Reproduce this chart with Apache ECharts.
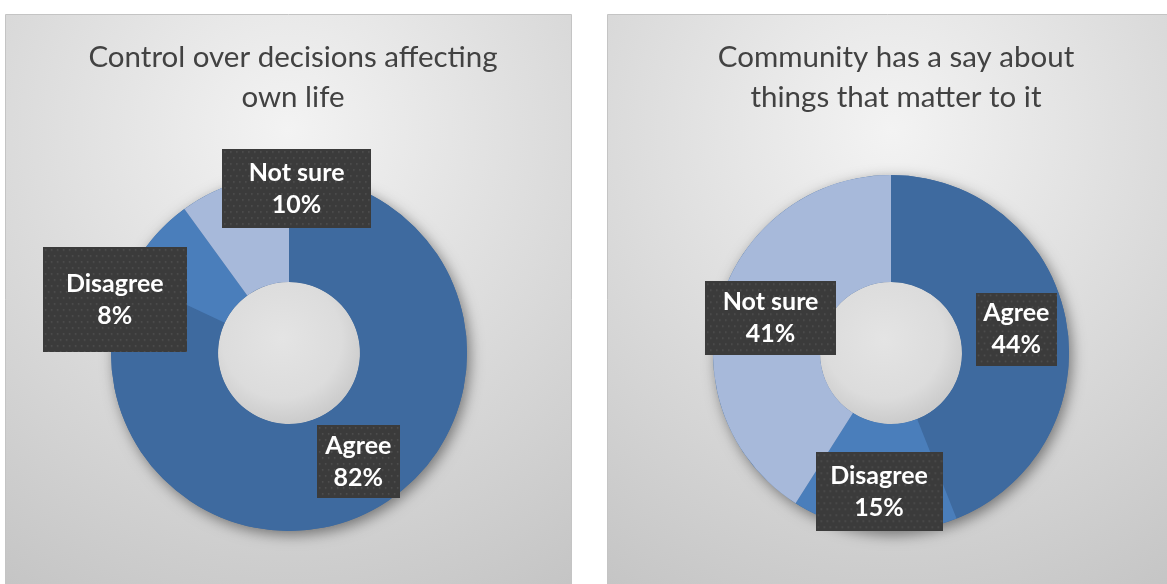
<!DOCTYPE html>
<html>
<head>
<meta charset="utf-8">
<script src="https://cdn.jsdelivr.net/npm/echarts@6/dist/echarts.min.js"></script>
<style>
  html, body { margin: 0; padding: 0; background: #ffffff; }
  #chart { width: 1167px; height: 584px; }
</style>
</head>
<body>
<div id="chart"></div>
<script>
// Survey answers, in percent
const categories = ['Agree', 'Disagree', 'Not sure'];
const controlValues = [82, 8, 10];
const communityValues = [44, 15, 41];
const chartTitles = [
  'Control over decisions affecting\nown life',
  'Community has a say about\nthings that matter to it'
];

// Styling
const sliceColors = ['#3E6A9F', '#4A7EBB', '#A7B9DA'];
const FONT = 'Lato, "Open Sans", sans-serif';
const LINE_H = 32;

// Label box sizes [w, h] and nudges [dx, dy] per slice, for each donut
const controlBoxes = [[83, 73], [144, 105], [149, 79]];
const controlNudge = [[1, 1], [-76, 28], [47, -43]];
const communityBoxes = [[81, 73], [127, 79], [131, 74]];
const communityNudge = [[0, 0], [0, 12], [2, 1]];

// Dark dotted label background
function dottedCanvas(w, h) {
  const c = document.createElement('canvas');
  c.width = w; c.height = h;
  const g = c.getContext('2d');
  g.fillStyle = '#3b3b3b';
  g.fillRect(0, 0, w, h);
  g.fillStyle = 'rgba(255,255,255,0.13)';
  for (let y = 2, row = 0; y < h; y += 6, row++) {
    for (let x = (row % 2 ? 5 : 2); x < w; x += 6) {
      g.fillRect(x, y, 1.5, 1.5);
    }
  }
  return c;
}

function panelFill() {
  return {
    type: 'radial', x: 0.5, y: 0.2, r: 1,
    colorStops: [
      { offset: 0, color: '#f3f3f3' },
      { offset: 1, color: '#c2c2c2' }
    ]
  };
}

function donutSeries(values, boxes, nudge, center) {
  const data = categories.map((name, i) => ({
    name: name,
    value: values[i],
    itemStyle: { color: sliceColors[i] },
    label: {
      width: boxes[i][0],
      padding: [(boxes[i][1] - 2 * LINE_H) / 2, 0],
      backgroundColor: { image: dottedCanvas(boxes[i][0], boxes[i][1]) }
    }
  }));
  return [
    // ring shadow underlay
    {
      type: 'pie', silent: true, z: 1,
      center: center, radius: [71, 178],
      startAngle: 90, clockwise: true,
      label: { show: false }, labelLine: { show: false },
      itemStyle: {
        color: '#3E6A9F',
        shadowBlur: 14, shadowOffsetX: 3, shadowOffsetY: 4,
        shadowColor: 'rgba(0,0,0,0.45)'
      },
      emphasis: { disabled: true },
      data: [{ value: 1, name: '' }]
    },
    // hole
    {
      type: 'pie', silent: true, z: 1,
      center: center, radius: [0, 71],
      label: { show: false }, labelLine: { show: false },
      itemStyle: {
        color: {
          type: 'radial', x: 0.45, y: 0.4, r: 0.6,
          colorStops: [
            { offset: 0, color: '#e4e4e4' },
            { offset: 0.7, color: '#dcdcdc' },
            { offset: 1, color: '#cbcbcb' }
          ]
        }
      },
      emphasis: { disabled: true },
      data: [{ value: 1, name: '' }]
    },
    // answers
    {
      type: 'pie', z: 3,
      center: center, radius: [71, 178],
      startAngle: 90, clockwise: true,
      avoidLabelOverlap: false,
      animation: false,
      emphasis: { disabled: true },
      labelLine: { show: false },
      label: {
        show: true,
        position: 'inside',
        formatter: p => p.name + '\n' + p.value + '%',
        color: '#ffffff',
        fontFamily: FONT,
        fontWeight: 'bold',
        fontSize: 25,
        lineHeight: LINE_H,
        align: 'center',
        shadowColor: 'rgba(0,0,0,0.45)',
        shadowBlur: 6,
        shadowOffsetX: 3,
        shadowOffsetY: 3
      },
      labelLayout: p => ({ dx: nudge[p.dataIndex][0], dy: nudge[p.dataIndex][1] }),
      data: data
    }
  ];
}

const chart = echarts.init(document.getElementById('chart'), null, { renderer: 'canvas' });

const titleStyle = { fontFamily: FONT, fontWeight: 'normal', fontSize: 29.5, lineHeight: 40, color: '#424242' };

chart.setOption({
  animation: false,
  backgroundColor: '#ffffff',
  graphic: [
    {
      type: 'rect', z: -10,
      shape: { x: 5.5, y: 14.5, width: 566, height: 580 },
      style: { fill: panelFill(), stroke: '#c4c4c4', lineWidth: 1 }
    },
    {
      type: 'rect', z: -10,
      shape: { x: 607.5, y: 14.5, width: 568, height: 580 },
      style: { fill: panelFill(), stroke: '#c4c4c4', lineWidth: 1 }
    }
  ],
  title: [
    { text: chartTitles[0], left: 288, top: 32, textAlign: 'center', textStyle: titleStyle },
    { text: chartTitles[1], left: 891, top: 32, textAlign: 'center', textStyle: titleStyle }
  ],
  series: [
    ...donutSeries(controlValues, controlBoxes, controlNudge, [289, 353]),
    ...donutSeries(communityValues, communityBoxes, communityNudge, [891, 353])
  ]
});
</script>
</body>
</html>
